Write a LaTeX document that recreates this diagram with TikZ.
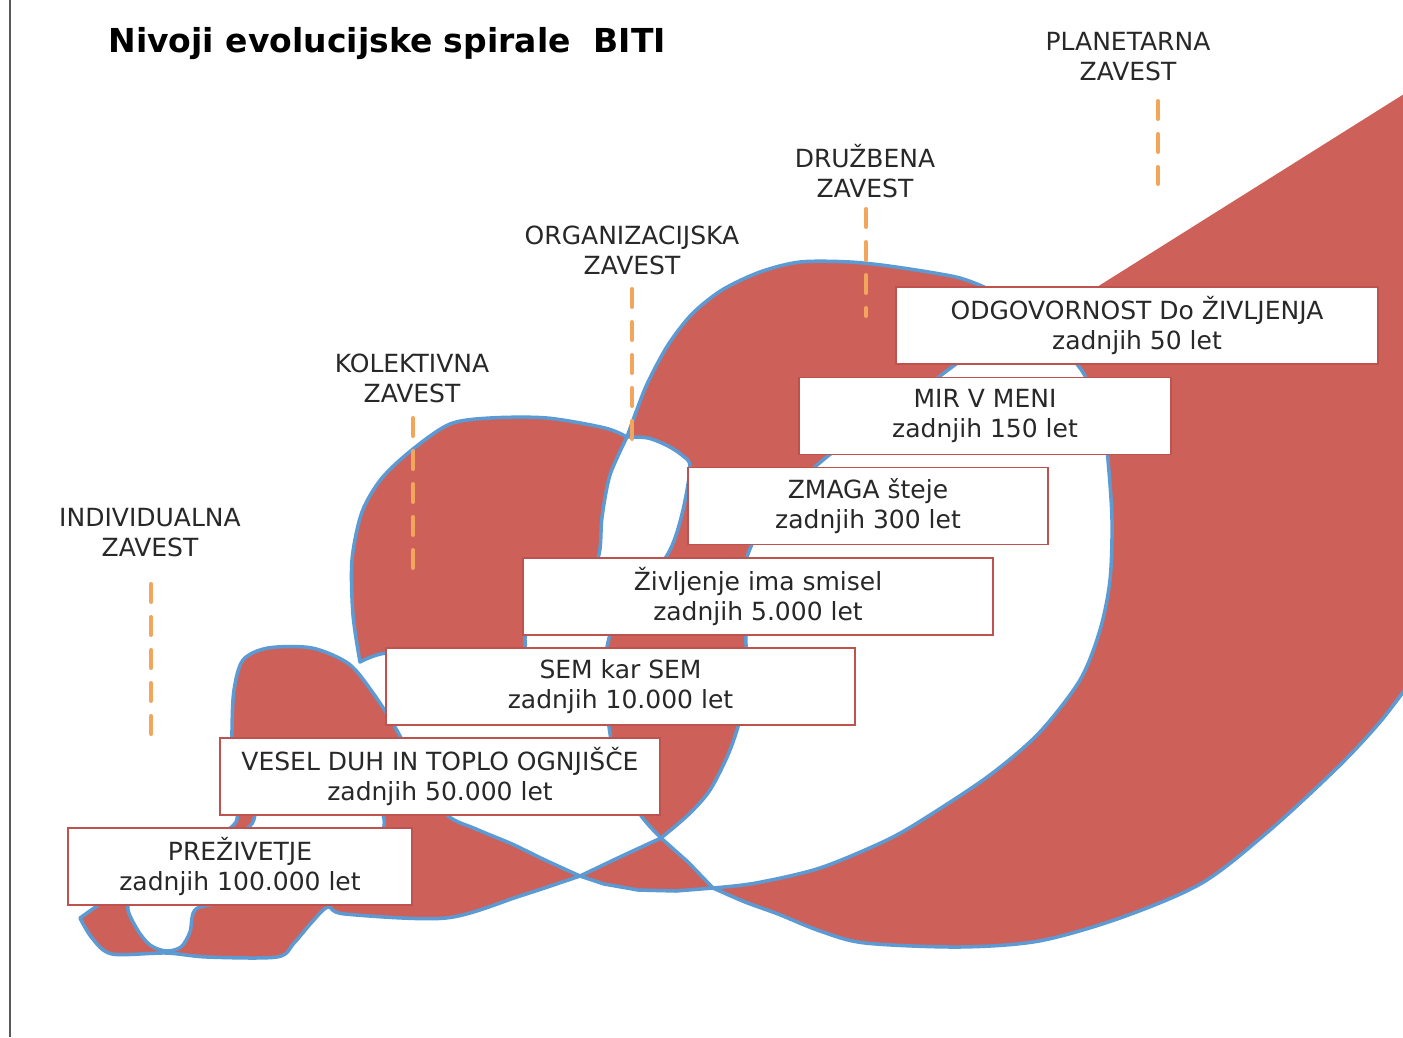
\documentclass[tikz,border=0pt]{standalone}
\usepackage{fontspec}
\setmainfont{DejaVu Sans}
\usepackage[dvipsnames,svgnames]{xcolor}
\usepackage{tkz-euclide}
\definecolor{spiralred}{RGB}{205,97,90}
\definecolor{rimblue}{RGB}{92,154,212}
\definecolor{dashorange}{RGB}{242,166,92}
\definecolor{boxline}{RGB}{190,82,78}
\definecolor{ink}{RGB}{40,40,40}
\tikzset{
  spiral/.style={fill=spiralred},
  rim/.style={draw=rimblue,line width=3.5pt,line join=round},
  stage/.style={draw=boxline,fill=white,line width=1.3pt,minimum height=77,
    align=center,text=ink,font=\fontsize{25}{30}\selectfont},
  level/.style={align=center,text=ink,font=\fontsize{25}{30}\selectfont},
  guide/.style={color=dashorange,line width=4pt,dash pattern=on 18pt off 15pt},
  heading/.style={font=\bfseries\fontsize{33}{40}\selectfont}
}
\begin{document}
\begin{tikzpicture}[x=1pt,y=-1pt]
  \useasboundingbox (0,0) rectangle (1403,1037);
  \fill[white] (0,0) rectangle (1403,1037);
  \draw[gray!70!black,line width=2pt] (10,0) -- (10,1037);
  \tkzDefPoints{151/584/Ia,151/740/Ib,413/418/Ka,413/572/Kb,632/289/Oa,632/441/Ob,866/209/Da,866/316/Db,1158/101/Pa,1158/184/Pb}
  \path[spiral,rim] (1412,330) -- (1090,330) -- (990,305) -- (984,287)
    -- plot[smooth] coordinates {(984,287) (956,277) (896,267) (850,262) (800,262) (760,272) (722,290) (692,314) (668,345) (648,382) (636,412) (627,437)}
    -- plot[smooth] coordinates {(627,437) (648,438) (668,446) (683,456) (690,467) (683,510) (670,550) (640,595) (612,630) (605,665) (606,700) (612,745) (624,785) (642,817) (661,838)}
    -- plot[smooth] coordinates {(661,838) (688,815) (710,790) (730,750) (742,710) (746,660) (745,600) (746,560) (772,508) (823,460) (880,418) (925,387) (956,364)}
    -- plot[smooth] coordinates {(956,364) (985,349) (1030,345) (1062,352) (1080,368) (1096,398) (1104,430) (1108,460) (1112,520) (1110,580) (1100,630) (1080,680) (1039,733) (990,775) (930,815) (887,840) (820,868) (756,883) (713,888)}
    -- plot[smooth] coordinates {(713,888) (745,902) (778,914) (820,931) (865,943) (960,947) (1039,941) (1120,918) (1202,883) (1270,830) (1338,767) (1380,722) (1412,680)}
    -- cycle;
  \fill[spiral] (1412,89) -- (1097,287) -- (1097,364) -- (1412,364) -- cycle;
  \path[spiral,rim] (580,876) -- (622,856) -- (661,838) -- (688,862) -- (713,888) -- (676,891) -- (638,890) -- (604,884) -- cycle;
  \path[spiral,rim] (580,876)
    -- plot[smooth] coordinates {(580,876) (545,860) (512,844) (476,829) (446,814) (418,770) (395,727) (373,693) (349,664) (312,648) (268,648) (243,660) (234,690) (232,730) (232,790) (236,822) (200,846) (130,884) (80,918)}
    -- plot[smooth] coordinates {(80,918) (92,938) (112,954) (166,953) (207,957) (277,957) (294,943) (312,922) (328,907) (345,914) (446,918) (520,896) (580,876)}
    -- cycle;
  \path[fill=white,rim] plot[smooth cycle] coordinates {(128,905) (150,880) (205,850) (250,826) (262,800) (320,788) (372,800) (384,826) (360,860) (300,893) (230,902) (196,909) (190,932) (181,947) (166,951) (150,945) (137,929)};
  \path[spiral,rim] (627,437)
    -- plot[smooth] coordinates {(627,437) (605,428) (547,418) (490,418) (450,424) (413,449) (382,478) (362,512) (352,560) (353,615) (360,662)}
    -- plot[smooth] coordinates {(360,662) (386,653) (450,651) (520,651) (528,630) (575,590) (598,558) (602,517) (610,475) (627,437)}
    -- cycle;
  \tkzDrawSegments[guide](Ia,Ib Ka,Kb Oa,Ob Da,Db Pa,Pb)
  \node[level] (indiv) at (150,533) {INDIVIDUALNA\\ZAVEST};
  \node[level] (kolek) at (412,378) {KOLEKTIVNA\\ZAVEST};
  \node[level] (organ) at (632,250) {ORGANIZACIJSKA\\ZAVEST};
  \node[level] (druzb) at (865,171) {DRUŽBENA\\ZAVEST};
  \node[level] (planet) at (1128,57) {PLANETARNA\\ZAVEST};
  \node[stage,minimum width=344] (surv) at (240,866.5) {PREŽIVETJE\\zadnjih 100.000 let};
  \node[stage,minimum width=440] (spirit) at (440,776.5) {VESEL DUH IN TOPLO OGNJIŠČE\\zadnjih 50.000 let};
  \node[stage,minimum width=469] (self) at (620.5,686.5) {SEM kar SEM\\zadnjih 10.000 let};
  \node[stage,minimum width=470] (meaning) at (758,596.5) {Življenje ima smisel\\zadnjih 5.000 let};
  \node[stage,minimum width=360] (victory) at (868,506) {ZMAGA šteje\\zadnjih 300 let};
  \node[stage,minimum width=372] (peace) at (985,416) {MIR V MENI\\zadnjih 150 let};
  \node[stage,minimum width=482] (duty) at (1137,325.5) {ODGOVORNOST Do ŽIVLJENJA\\zadnjih 50 let};
  \node[heading,anchor=base west] (title) at (105,52) {Nivoji evolucijske spirale~~BITI};
\end{tikzpicture}
\end{document}
